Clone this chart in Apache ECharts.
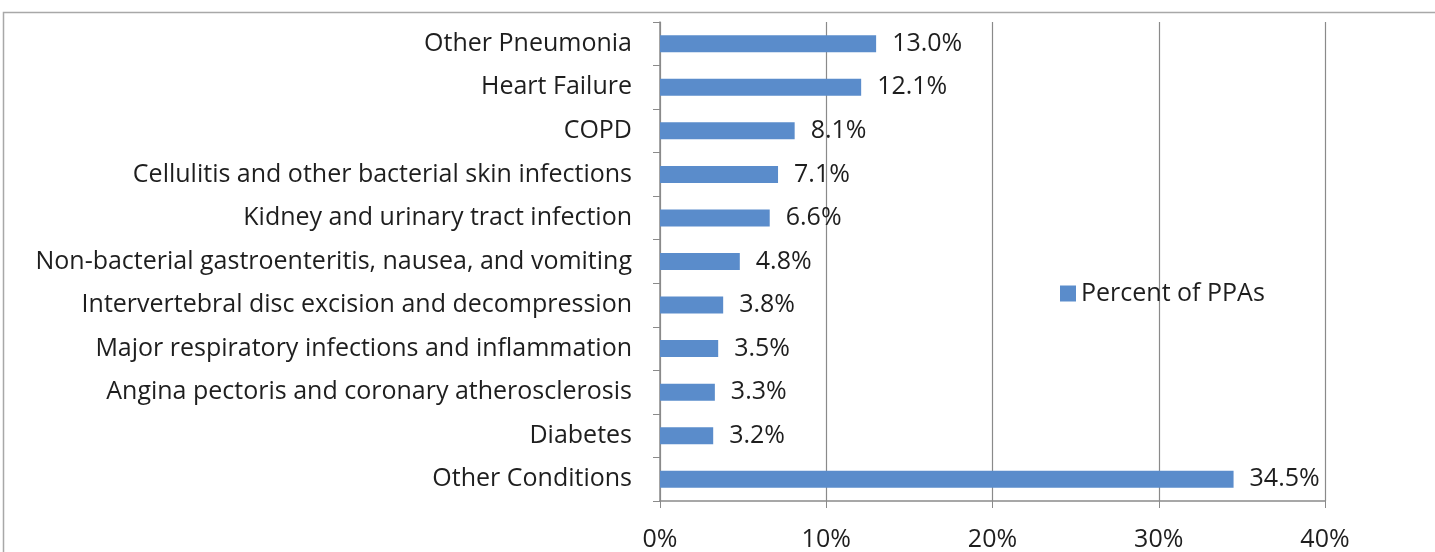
<!DOCTYPE html>
<html>
<head>
<meta charset="utf-8">
<script src="https://cdn.jsdelivr.net/npm/echarts@6/dist/echarts.min.js"></script>
<style>
  html, body { margin: 0; padding: 0; background: #fff; }
  #chart { width: 1435px; height: 552px; }
</style>
</head>
<body>
<div id="chart"></div>
<script>
var categories = [
  'Other Pneumonia',
  'Heart Failure',
  'COPD',
  'Cellulitis and other bacterial skin infections',
  'Kidney and urinary tract infection',
  'Non-bacterial gastroenteritis, nausea, and vomiting',
  'Intervertebral disc excision and decompression',
  'Major respiratory infections and inflammation',
  'Angina pectoris and coronary atherosclerosis',
  'Diabetes',
  'Other Conditions'
];
var percentOfPPAs = [13.0, 12.1, 8.1, 7.1, 6.6, 4.8, 3.8, 3.5, 3.3, 3.2, 34.5];
var seriesName = 'Percent of PPAs';

var font = '"Open Sans", sans-serif';
var fs = 25;
var myChart = echarts.init(document.getElementById('chart'));

var option = {
  animation: false,
  textStyle: { fontFamily: font },
  graphic: [{
    type: 'rect',
    shape: { x: 3.5, y: 12.5, width: 1500, height: 600 },
    style: { fill: 'none', stroke: '#a8a8a8', lineWidth: 1.5 },
    silent: true
  }],
  legend: {
    left: 1060,
    top: 281,
    padding: 0,
    itemWidth: 16,
    itemHeight: 16,
    itemGap: 8,
    textStyle: { fontFamily: font, fontSize: fs, color: '#1e1e1e' },
    data: [{ name: seriesName, icon: 'rect' }]
  },
  grid: { left: 660, right: 110, top: 22, bottom: 51, containLabel: false },
  xAxis: {
    type: 'value',
    min: 0,
    max: 40,
    interval: 10,
    axisLine: { show: true, lineStyle: { color: '#8a8a8a', width: 1.5 } },
    axisTick: { show: true, length: 7, lineStyle: { color: '#8a8a8a' } },
    axisLabel: { formatter: '{value}%', fontSize: fs, color: '#1e1e1e', margin: 26, fontFamily: font },
    splitLine: { show: true, lineStyle: { color: '#8a8a8a', width: 1.2 } }
  },
  yAxis: {
    type: 'category',
    inverse: true,
    data: categories,
    axisLine: { show: true, lineStyle: { color: '#8a8a8a', width: 1.5 } },
    axisTick: { show: true, length: 7, lineStyle: { color: '#8a8a8a' } },
    axisLabel: { fontSize: fs, color: '#1e1e1e', margin: 28, padding: [6, 0, 0, 0], fontFamily: font }
  },
  series: [{
    name: seriesName,
    type: 'bar',
    data: percentOfPPAs,
    barCategoryGap: '61%',
    itemStyle: { color: '#5a8ccb' },
    label: {
      show: true,
      position: 'right',
      distance: 16,
      padding: [6, 0, 0, 0],
      formatter: function (p) { return p.value.toFixed(1) + '%'; },
      fontSize: fs,
      color: '#1e1e1e',
      fontFamily: font
    }
  }]
};

myChart.setOption(option);
</script>
</body>
</html>
